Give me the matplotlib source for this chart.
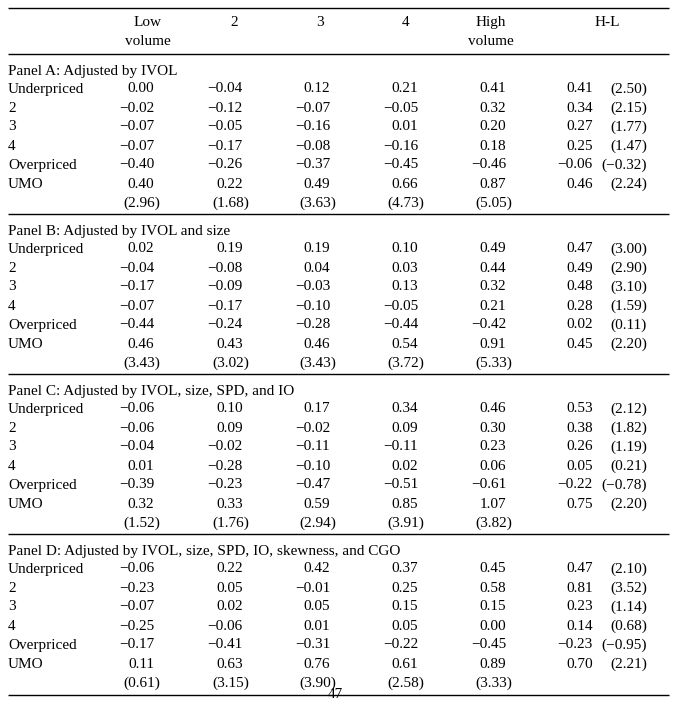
import matplotlib.pyplot as plt

plt.rcParams['font.family'] = ['Liberation Serif', 'DejaVu Serif']

# Column headers
col_top = ['Low', '2', '3', '4', 'High', 'H-L']
col_bottom = ['volume', '', '', '', 'volume', '']
row_labels = ['Underpriced', '2', '3', '4', 'Overpriced', 'UMO']

panel_titles = [
    'Panel A: Adjusted by IVOL',
    'Panel B: Adjusted by IVOL and size',
    'Panel C: Adjusted by IVOL, size, SPD, and IO',
    'Panel D: Adjusted by IVOL, size, SPD, IO, skewness, and CGO',
]

# Returns per panel: rows x 5 volume groups
panel_a = [[0.00, -0.04, 0.12, 0.21, 0.41],
           [-0.02, -0.12, -0.07, -0.05, 0.32],
           [-0.07, -0.05, -0.16, 0.01, 0.20],
           [-0.07, -0.17, -0.08, -0.16, 0.18],
           [-0.40, -0.26, -0.37, -0.45, -0.46],
           [0.40, 0.22, 0.49, 0.66, 0.87]]
panel_b = [[0.02, 0.19, 0.19, 0.10, 0.49],
           [-0.04, -0.08, 0.04, 0.03, 0.44],
           [-0.17, -0.09, -0.03, 0.13, 0.32],
           [-0.07, -0.17, -0.10, -0.05, 0.21],
           [-0.44, -0.24, -0.28, -0.44, -0.42],
           [0.46, 0.43, 0.46, 0.54, 0.91]]
panel_c = [[-0.06, 0.10, 0.17, 0.34, 0.46],
           [-0.06, 0.09, -0.02, 0.09, 0.30],
           [-0.04, -0.02, -0.11, -0.11, 0.23],
           [0.01, -0.28, -0.10, 0.02, 0.06],
           [-0.39, -0.23, -0.47, -0.51, -0.61],
           [0.32, 0.33, 0.59, 0.85, 1.07]]
panel_d = [[-0.06, 0.22, 0.42, 0.37, 0.45],
           [-0.23, 0.05, -0.01, 0.25, 0.58],
           [-0.07, 0.02, 0.05, 0.15, 0.15],
           [-0.25, -0.06, 0.01, 0.05, 0.00],
           [-0.17, -0.41, -0.31, -0.22, -0.45],
           [0.11, 0.63, 0.76, 0.61, 0.89]]

# UMO t-statistics per volume group
umo_t_a = [2.96, 1.68, 3.63, 4.73, 5.05]
umo_t_b = [3.43, 3.02, 3.43, 3.72, 5.33]
umo_t_c = [1.52, 1.76, 2.94, 3.91, 3.82]
umo_t_d = [0.61, 3.15, 3.90, 2.58, 3.33]

# H-L estimates and t-statistics per row
hl_a = [0.41, 0.34, 0.27, 0.25, -0.06, 0.46]
hl_t_a = [2.50, 2.15, 1.77, 1.47, -0.32, 2.24]
hl_b = [0.47, 0.49, 0.48, 0.28, 0.02, 0.45]
hl_t_b = [3.00, 2.90, 3.10, 1.59, 0.11, 2.20]
hl_c = [0.53, 0.38, 0.26, 0.05, -0.22, 0.75]
hl_t_c = [2.12, 1.82, 1.19, 0.21, -0.78, 2.20]
hl_d = [0.47, 0.81, 0.23, 0.14, -0.23, 0.70]
hl_t_d = [2.10, 3.52, 1.14, 0.68, -0.95, 2.21]

panels = [
    (panel_a, umo_t_a, hl_a, hl_t_a),
    (panel_b, umo_t_b, hl_b, hl_t_b),
    (panel_c, umo_t_c, hl_c, hl_t_c),
    (panel_d, umo_t_d, hl_d, hl_t_d),
]


def fmt(v):
    s = f'{v:.2f}'
    return s.replace('-', '\u2212')


W, H = 678, 716
fig = plt.figure(figsize=(W / 100, H / 100), dpi=100)
ax = fig.add_axes([0, 0, 1, 1])
ax.set_xlim(0, W)
ax.set_ylim(H, 0)
ax.axis('off')

fs = 11
x_left = 8
x_right = 669
col_right = [154, 243, 330, 418, 506]
col_center = [148, 234, 320, 406, 491, 607]
hl_num_right = 593
hl_t_right = 647
base = 5  # baseline offset from text centre

# rules
ax.hlines([8, 54], x_left, x_right, color='black', lw=1.0)

# header
for xc, top, bot in zip(col_center, col_top, col_bottom):
    ax.text(xc, 26, top, ha='center', va='baseline', fontsize=fs)
    if bot:
        ax.text(xc, 45, bot, ha='center', va='baseline', fontsize=fs)

row_offsets = [17.5, 36.5, 55.5, 74.5, 93.5, 112.5]
for p, (vals, umo_t, hl, hl_t) in enumerate(panels):
    y0 = 70 + 160 * p
    ax.text(x_left, y0 + base, panel_titles[p], ha='left', va='baseline', fontsize=fs)
    for r, lab in enumerate(row_labels):
        y = y0 + row_offsets[r] + base
        ax.text(x_left, y, lab, ha='left', va='baseline', fontsize=fs)
        for c in range(5):
            ax.text(col_right[c], y, fmt(vals[r][c]), ha='right', va='baseline', fontsize=fs)
        ax.text(hl_num_right, y, fmt(hl[r]), ha='right', va='baseline', fontsize=fs)
        ax.text(hl_t_right, y, '(' + fmt(hl_t[r]) + ')', ha='right', va='baseline', fontsize=fs)
    yt = y0 + 131.5 + base
    for c in range(5):
        ax.text(col_right[c] + 6, yt, '(' + fmt(umo_t[c]) + ')', ha='right', va='baseline', fontsize=fs)
    ax.hlines(y0 + 143.5 + (1.5 if p == 3 else 0), x_left, x_right, color='black', lw=1.0)

# page number
ax.text(335, 698, '47', ha='center', va='baseline', fontsize=fs)

fig.savefig('out.png', dpi=100)
